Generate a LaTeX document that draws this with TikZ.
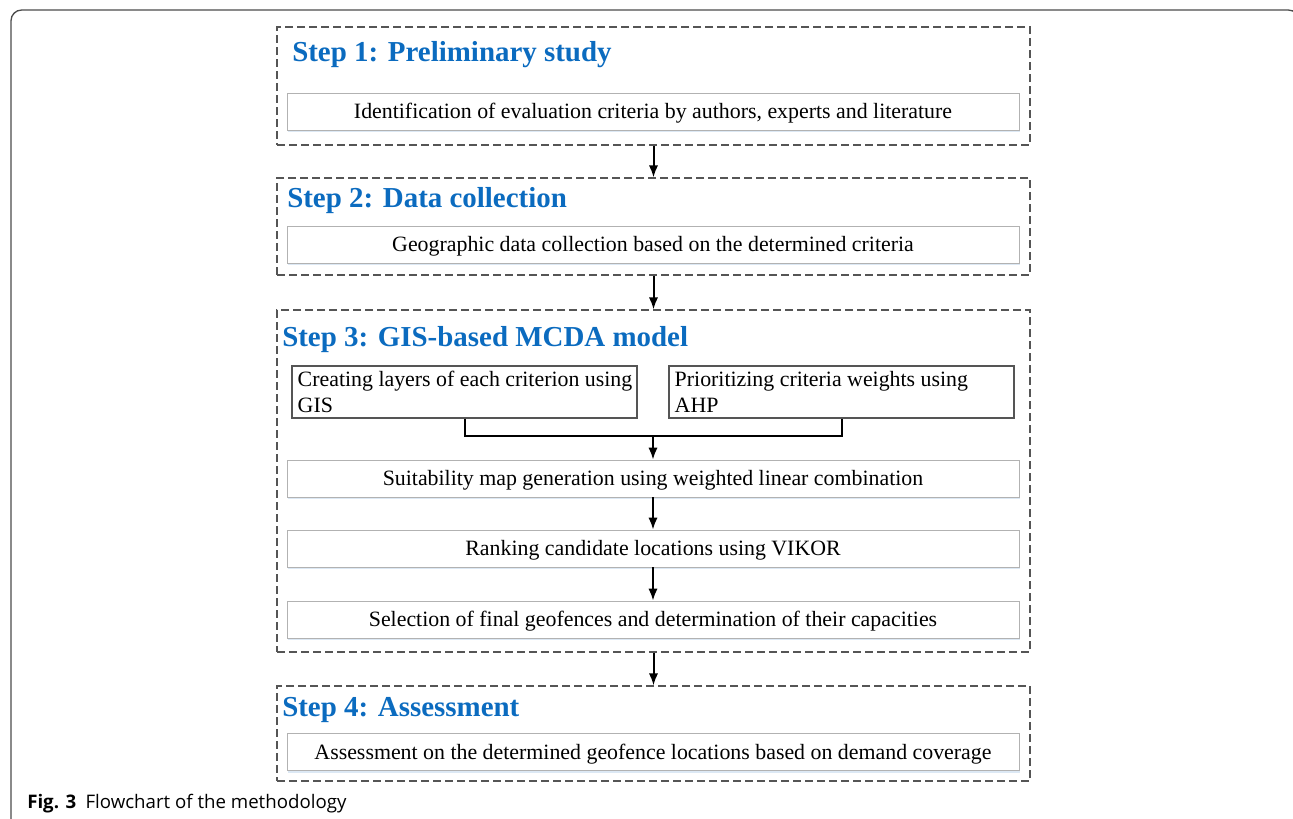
\documentclass[tikz,border=0pt]{standalone}
\usepackage{fontspec}
\setmainfont{Liberation Serif}
\newfontfamily\capfont{Open Sans}
\usetikzlibrary{arrows.meta,positioning,calc,shadows}
\definecolor{stepblue}{HTML}{0B6BBF}
\definecolor{framegray}{HTML}{555555}
\definecolor{shadowblue}{HTML}{DCE8F4}
\tikzset{
  stepframe/.style={draw=framegray,dash pattern=on 6pt off 3pt,line width=0.9pt,inner sep=0pt,
    minimum width=564.75pt},
  steptitle/.style={anchor=west,inner sep=0pt,text=stepblue,font=\bfseries\fontsize{21.7}{24}\selectfont},
  stepbox/.style={draw=gray!60,line width=0.6pt,fill=white,inner sep=0pt,minimum width=549pt,
    minimum height=27.75pt,text height=14pt,text depth=3.2pt,font=\fontsize{16.4}{19.5}\selectfont,
    drop shadow={shadow xshift=0.8pt,shadow yshift=-1.5pt,fill=shadowblue,opacity=1}},
  subbox/.style={draw=framegray,line width=0.8pt,fill=white,inner sep=0pt,minimum width=258.75pt,
    minimum height=39pt},
  subtext/.style={inner sep=0pt,align=left,font=\fontsize{16.4}{19.5}\selectfont},
  flowline/.style={draw=black,line width=1.5pt},
  flowarrow/.style={-{Latex[length=9pt,width=7pt]},draw=black,line width=1.5pt}
}

\begin{document}
\begin{tikzpicture}[x=0.75pt,y=-0.75pt]
\useasboundingbox (0,0) rectangle (1293,818);
\begin{scope}
\clip (0,0) rectangle (1293,818);
\draw[gray!60!black,line width=1pt,rounded corners=8pt] (11,830) |- (1299,10) -- (1299,830);
\end{scope}
% step frames
\node[stepframe,minimum height=88.5pt] (s1) at (653.5,86) {};
\node[stepframe,minimum height=72.75pt] (s2) at (653.5,226.5) {};
\node[stepframe,minimum height=256.5pt] (s3) at (653.5,481) {};
\node[stepframe,minimum height=71.25pt] (s4) at (653.5,733.5) {};
\node[steptitle] (t1) at (292,55) {Step 1: Preliminary study};
\node[steptitle] (t2) at (287,201) {Step 2: Data collection};
\node[steptitle] (t3) at (282,340) {Step 3: GIS-based MCDA model};
\node[steptitle] (t4) at (282,710) {Step 4: Assessment};
% inner boxes
\node[stepbox] (b1) at (653,111.5) {Identification of evaluation criteria by authors, experts and literature};
\node[stepbox] (b2) at (653,244.5) {Geographic data collection based on the determined criteria};
\node[subbox] (gis) at (464.5,392) {};
\node[subbox] (ahp) at (841.5,392) {};
\node[subtext,right=4.5pt of gis.west] (gistxt) {Creating layers of each criterion using\\GIS};
\node[subtext,right=4.5pt of ahp.west] (ahptxt) {Prioritizing criteria weights using\\AHP};
\node[stepbox] (suit) at (653,478.5) {Suitability map generation using weighted linear combination};
\node[stepbox] (rank) at (653,548.5) {Ranking candidate locations using VIKOR};
\node[stepbox] (sel) at (653,619.5) {Selection of final geofences and determination of their capacities};
\node[stepbox] (assess) at (653,752) {Assessment on the determined geofence locations based on demand coverage};
% connectors
\draw[flowarrow] (s1.south) -- (s2.north);
\draw[flowarrow] (s2.south) -- (s3.north);
\draw[flowarrow] (s3.south) -- (s4.north);
\coordinate (merge) at (653,436);
\draw[flowline] (gis.south) |- (merge) -| (ahp.south);
\draw[flowarrow] (merge) -- (suit.north);
\draw[flowarrow] (suit.south) -- (rank.north);
\draw[flowarrow] (rank.south) -- (sel.north);
% caption
\node[anchor=west,inner sep=0pt,font=\capfont\fontsize{14}{16}\selectfont] (caption) at (27,804)
  {\textbf{Fig. 3}\hspace{7pt}Flowchart of the methodology};
\end{tikzpicture}
\end{document}
